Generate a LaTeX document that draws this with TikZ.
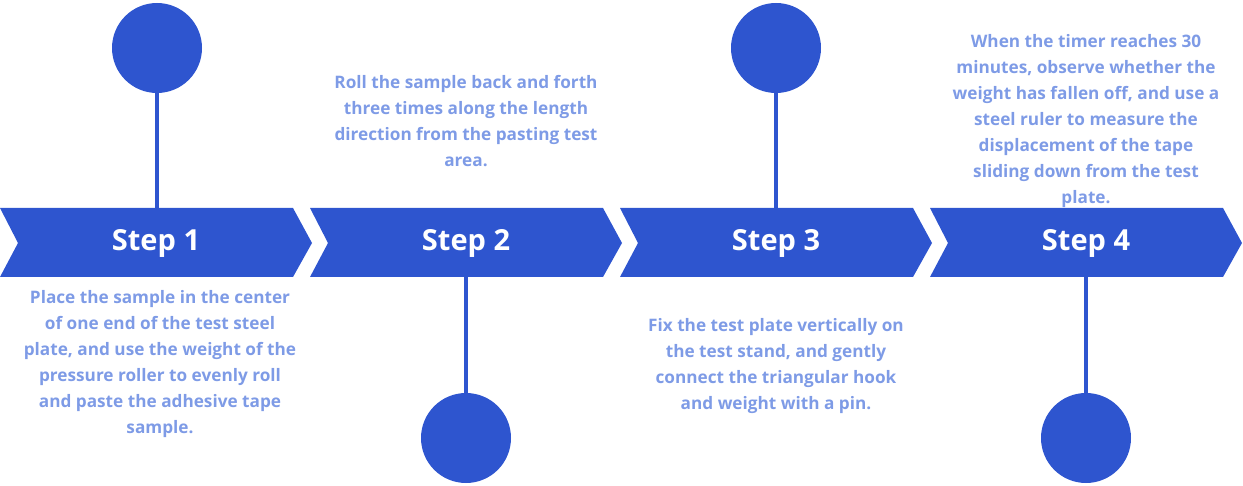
\documentclass[tikz,border=0pt]{standalone}
\usepackage{fontspec}
\setmainfont{Open Sans}
\usetikzlibrary{positioning}
\definecolor{stepblue}{HTML}{2E55CF}
\definecolor{textblue}{HTML}{7E9BE6}
\tikzset{
  chev/.style={fill=stepblue, draw=none},
  dot/.style={circle, fill=stepblue, minimum size=45pt, inner sep=0pt},
  steplabel/.style={text=white, font=\bfseries\fontsize{14.5}{16}\selectfont},
  desc/.style={text=textblue, align=center, font=\bfseries\fontsize{8.6}{13}\selectfont},
  stem/.style={stepblue, line width=1.6pt}
}
\begin{document}
\begin{tikzpicture}[x=0.5pt, y=-0.5pt]
\useasboundingbox (0,0) rectangle (1243,486);

% chevrons
\foreach \i in {0,1,2,3} {
  \fill[chev] ({\i*310},208) -- ({\i*310+293},208) -- ({\i*310+312},243) -- ({\i*310+293},277)
    -- ({\i*310},277) -- ({\i*310+18},243) -- cycle;
}
\node (s1) [steplabel] at (156,243) {Step 1};
\node (s2) [steplabel] at (466,243) {Step 2};
\node (s3) [steplabel] at (776,243) {Step 3};
\node (s4) [steplabel] at (1086,243) {Step 4};

% circles and stems
\node (c1) [dot] at (157,48) {};
\node (c2) [dot] at (466,438) {};
\node (c3) [dot] at (776,48) {};
\node (c4) [dot] at (1086,438) {};
\coordinate (t1) at (157,208);
\coordinate (t2) at (466,277);
\coordinate (t3) at (776,208);
\coordinate (t4) at (1086,277);
\draw [stem] (c1) -- (t1);
\draw [stem] (c2) -- (t2);
\draw [stem] (c3) -- (t3);
\draw [stem] (c4) -- (t4);

% descriptions
\node (d1) [desc] at (160,364) {Place the sample in the center\\of one end of the test steel\\plate, and use the weight of the\\pressure roller to evenly roll\\and paste the adhesive tape\\sample.};
\node (d2) [desc] at (466,121) {Roll the sample back and forth\\three times along the length\\direction from the pasting test\\area.};
\node (d3) [desc] at (776,366) {Fix the test plate vertically on\\the test stand, and gently\\connect the triangular hook\\and weight with a pin.};
\node (d4) [desc] at (1086,121) {When the timer reaches 30\\minutes, observe whether the\\weight has fallen off, and use a\\steel ruler to measure the\\displacement of the tape\\sliding down from the test\\plate.};
\end{tikzpicture}
\end{document}
